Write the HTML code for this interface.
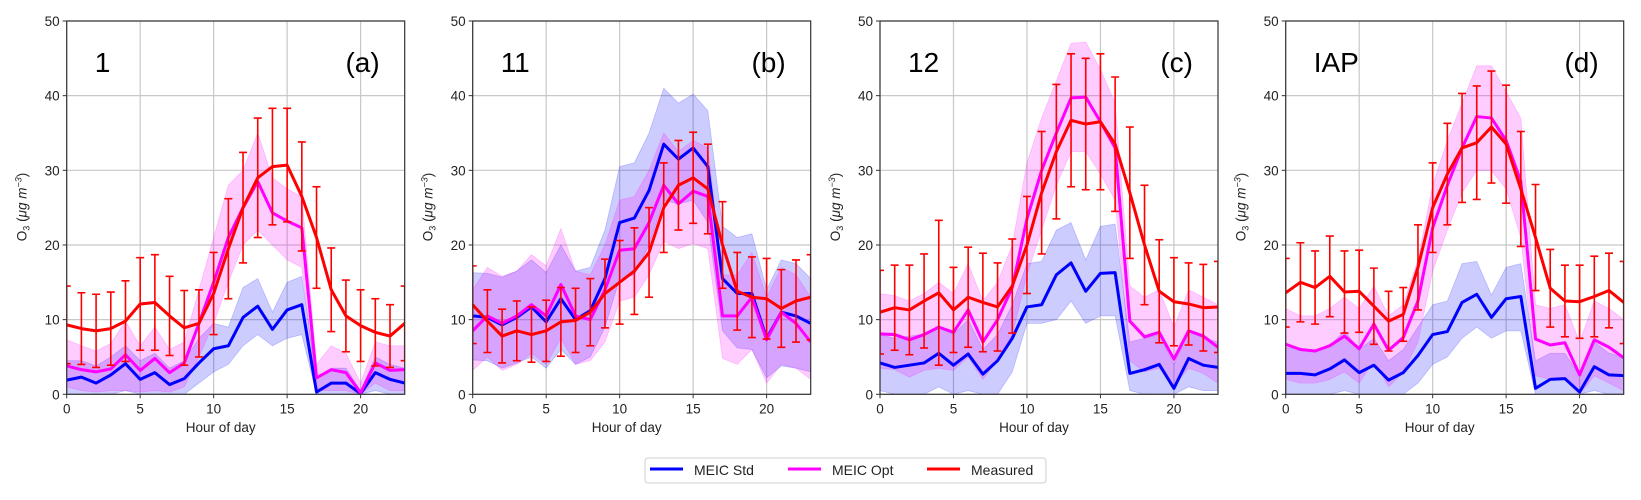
<!DOCTYPE html>
<html><head><meta charset="utf-8"><style>
body{margin:0;background:#fff;}
svg{display:block;font-family:"Liberation Sans",sans-serif;}
</style></head><body>
<svg id="fig" width="1641" height="500" xmlns="http://www.w3.org/2000/svg"></svg>
<script>
const hours=[0,1,2,3,4,5,6,7,8,9,10,11,12,13,14,15,16,17,18,19,20,21,22,23];
const yTicks=[0,10,20,30,40,50];
const xTicks=[0,5,10,15,20];
const panelIds=["1","11","12","IAP"];
const panelTags=["(a)","(b)","(c)","(d)"];
// Panel a
const aRed=[9.3,8.8,8.5,8.8,9.8,12.1,12.3,10.5,8.9,9.5,13.5,19.5,25,29,30.5,30.7,26.5,21,14,10.5,9.2,8.3,7.8,9.5];
const aErr=[5.2,4.8,4.9,4.9,5.4,6.2,6.4,5.3,5,4.5,5.5,6.7,7.4,8,7.8,7.6,7.3,6.8,5.6,4.8,4.8,4.5,4.2,5];
const aMag=[3.8,3.3,3,3.4,5.3,3.2,4.8,2.9,4.2,9.5,15,21,25,28.5,24.3,23.2,22.3,2.2,3.3,2.9,0.2,4.2,3.2,3.3];
const aMagHi=[7.3,6.5,5.8,6.8,9.8,6.5,9,6,7,14,21,28,30,35,29,27.5,26.5,4,6.5,5.5,1.5,7,6.5,6.5];
const aMagLo=[1,0.5,0.3,0.5,0.5,0.3,0.5,0.3,1,5,9.5,15,20,22,20,18,17,0.5,0.5,0.5,0,1.5,0.5,0.5];
const aBlue=[1.9,2.3,1.5,2.6,4.1,2,2.9,1.3,2.1,4.2,6.1,6.5,10.3,11.8,8.7,11.3,12,0.3,1.5,1.5,0.1,2.9,2,1.5];
const aBlueHi=[4.5,4.5,3.8,5,6.5,4.5,5.5,3.5,4.5,7.5,9.5,9,14.3,15.5,11,15,15.8,2,3.5,3.5,0.5,5,4,3.5];
const aBlueLo=[0,0,0,0,0.5,0,0,0,0,1.5,3,4,6.5,8,6.5,7.5,8,0,0,0,0,0.5,0,0];
// Panel b
const bRed=[12,9.8,7.8,8.5,8,8.5,9.7,9.9,11,13.5,15,16.5,19,25,28,29,27.5,20,13.8,13,12.8,11.5,12.5,13];
const bErr=[5.2,4.2,3.6,4,3.7,4.1,4.6,4.3,4.5,4.6,5.6,5.8,6,6,6,6.1,6,5.8,5.2,5.4,5.4,5.2,5.5,5.7];
const bMag=[8.5,10.5,9.5,10.5,12,10.5,14.7,10.5,10,14,19.3,19.5,23,28,25.5,27.2,26.5,10.5,10.5,13,7.3,11,9.5,7];
const bMagHi=[14,17,15.8,16.5,18.7,17.2,22.2,16.5,16,20,26,26.5,30,35,32.5,34,33,16,16,19,13,17,16,13];
const bMagLo=[3.2,5,3.2,4,5.5,4,7.5,4,4.5,7,12.5,13,16,20.5,19.5,20.2,19.5,4.8,4,6,1.5,4,3.5,2];
const bBlue=[10.5,10.3,9.3,10.3,11.7,9.7,12.8,10,11.2,15.5,23,23.6,27.3,33.5,31.5,33,30.5,15.5,13.5,13.5,7.5,11,10.5,9.5];
const bBlueHi=[16.3,16.2,15.7,16.5,18,16.3,20,16.5,17,22,30.5,31,35,41,39,40.2,38,22.5,21,21.5,14,18,17.5,15.5];
const bBlueLo=[4.6,4.5,3.5,4.2,5,3.5,6,4,5,9,15.5,16,20,26,25.5,26,23,8.5,6.2,6,2.2,3.8,3.5,3];
// Panel c
const cRed=[11,11.6,11.3,12.5,13.6,11.3,13,12.3,11.7,14.5,20,27,32.5,36.7,36.2,36.5,33.5,27,20,13.8,12.4,12.1,11.6,11.7];
const cErr=[5.6,5.7,6,6.3,9.7,5.7,6.7,6.6,5.9,6.3,6.5,8.2,9,8.9,8.8,9.1,9,8.8,8,6.9,5.9,5.5,5.8,6.1];
const cMag=[8.1,8,7.3,8,9,8.3,11.3,7,10,14.3,23.5,30,35,39.7,39.8,36.5,33,9.8,7.7,8.3,4.7,8.5,7.8,6.3];
const cMagHi=[13.5,13.2,12.5,13.5,15,13.5,17.5,12.5,15,20,31,37,42,47,47.2,43.5,39,14.5,13,14,9,14,13,12];
const cMagLo=[3.5,3.3,2.3,3.2,3.5,3.2,5,2,4.5,8,16,22,28,32.5,32.5,29.5,26,4.5,3,3.5,1.2,3.5,2.8,1.5];
const cBlue=[4.2,3.6,3.9,4.2,5.5,3.9,5.4,2.7,4.5,7.5,11.7,12,16,17.6,13.8,16.2,16.3,2.8,3.3,4,0.8,4.8,3.9,3.6];
const cBlueHi=[8,7.5,7.8,8,9,8,10,6,8,12,17.5,17.8,22,23,18,22.5,22.8,7,7.5,8,4,8.5,7.5,7];
const cBlueLo=[0.5,0,0,0,1,0,0.5,0,0,3,9.5,9.5,10,12.5,9.5,10.5,10.5,0.5,0,0,0,1,0.5,0.5];
// Panel d
const dRed=[13.6,15,14.3,15.8,13.7,13.8,11.8,9.8,10.7,17,25,29.5,33,33.7,35.8,33.5,27.5,21,14.2,12.5,12.4,13.1,13.9,12.3];
const dErr=[4.6,5.3,4.9,5.4,5.5,5.5,5.1,4,3.6,5.7,6,6.8,7.3,7.6,7.5,7.9,7.7,7.1,5.2,4.8,4.9,5.4,5,5.5];
const dMag=[6.7,6,5.8,6.5,7.8,6.1,9.4,5.9,7.6,12.5,22.3,28,33,37.2,37,34,28.5,7.4,6.6,6.9,2.6,7.3,6.3,4.9];
const dMagHi=[11.5,10.5,10.5,11.5,13,11.5,14.5,10.5,12,18,28,34,39,44,44,40.5,37,12,11.5,12,7,12.5,11.5,10];
const dMagLo=[2,1.5,1.5,2,3,1.5,4.5,1,3,7,16.5,22,27,30,30,27.5,21,2.5,2,2,0,2.5,1.5,0.5];
const dBlue=[2.8,2.8,2.6,3.4,4.6,2.9,3.9,1.9,2.9,5.2,8,8.4,12.3,13.4,10.3,12.8,13.1,0.8,2,2.1,0.3,3.7,2.6,2.5];
const dBlueHi=[6.3,6,5.8,6.5,8.5,6,7.5,4.5,6,9,12,12.5,17.5,17.8,13.3,17,17.5,4.5,5.5,5.5,2.5,7,5.5,5];
const dBlueLo=[0,0,0,0,0.5,0,0,0,0,1.5,4,5,7.5,9,7.5,8.5,8.5,0,0,0,0,0.5,0,0];

const panels=[
 {left:66.7,red:aRed,err:aErr,mag:aMag,magHi:aMagHi,magLo:aMagLo,blue:aBlue,blueHi:aBlueHi,blueLo:aBlueLo},
 {left:472.7,red:bRed,err:bErr,mag:bMag,magHi:bMagHi,magLo:bMagLo,blue:bBlue,blueHi:bBlueHi,blueLo:bBlueLo},
 {left:880,red:cRed,err:cErr,mag:cMag,magHi:cMagHi,magLo:cMagLo,blue:cBlue,blueHi:cBlueHi,blueLo:cBlueLo},
 {left:1285.7,red:dRed,err:dErr,mag:dMag,magHi:dMagHi,magLo:dMagLo,blue:dBlue,blueHi:dBlueHi,blueLo:dBlueLo}
];
const NS="http://www.w3.org/2000/svg";
const svg=document.getElementById('fig');
const W=338, TOP=21, BOT=394.3;
function mk(tag,attrs,parent){const e=document.createElementNS(NS,tag);for(const k in attrs)e.setAttribute(k,attrs[k]);(parent||svg).appendChild(e);return e;}
const defs=mk('defs',{});
panels.forEach((p,pi)=>{
  const cp=mk('clipPath',{id:'clip'+pi},defs);
  mk('rect',{x:p.left,y:TOP,width:W,height:BOT-TOP},cp);
  const g=mk('g',{});
  
  
  const X=h=>p.left+h/23*W;
  const Y=v=>BOT-v/50*(BOT-TOP);
  xTicks.forEach(t=>{const l=mk('line',{x1:X(t),x2:X(t),y1:TOP,y2:BOT,stroke:'#c8c8c8','stroke-width':1.2},g);
    });
  yTicks.forEach(t=>{const l=mk('line',{x1:p.left,x2:p.left+W,y1:Y(t),y2:Y(t),stroke:'#c8c8c8','stroke-width':1.2},g);
    });
  const pg=mk('g',{'clip-path':'url(#clip'+pi+')'},g);
  
  
  const band=(hi,lo,col,name)=>{
    let d='M'+hours.map(h=>X(h)+','+Y(hi[h])).join('L')+'L'+hours.slice().reverse().map(h=>X(h)+','+Y(lo[h])).join('L')+'Z';
    const e=mk('path',{d:d,fill:col,stroke:col,'stroke-width':0.8},pg);
    
  };
  band(p.blueHi,p.blueLo,'rgba(0,0,255,0.2)','meic-std-band');
  band(p.magHi,p.magLo,'rgba(255,0,255,0.2)','meic-opt-band');
  const line=(arr,col,name)=>{
    const e=mk('polyline',{points:hours.map(h=>X(h)+','+Y(arr[h])).join(' '),fill:'none',stroke:col,'stroke-width':3,'stroke-linejoin':'round'},pg);
    
  };
  line(p.blue,'#0000ff','meic-std-line');
  line(p.mag,'#ff00ff','meic-opt-line');
  line(p.red,'#ff0000','measured-line');
  hours.forEach(h=>{
    const x=X(h),y1=Y(p.red[h]+p.err[h]),y2=Y(Math.max(0,p.red[h]-p.err[h]));
    const eg=mk('g',{stroke:'#ff0000','stroke-width':1.6},pg);
    
    mk('line',{x1:x,x2:x,y1:y1,y2:y2},eg);
    mk('line',{x1:x-4,x2:x+4,y1:y1,y2:y1},eg);
    mk('line',{x1:x-4,x2:x+4,y1:y2,y2:y2},eg);
  });
  const sp=mk('rect',{x:p.left,y:TOP,width:W,height:BOT-TOP,fill:'none',stroke:'#333','stroke-width':1.2},g);
  
  xTicks.forEach(t=>{
    mk('line',{x1:X(t),x2:X(t),y1:BOT,y2:BOT+4,stroke:'#333'},g);
    const tx=mk('text',{x:X(t),y:BOT+19,'font-size':13.5,'text-anchor':'middle',fill:'#222'},g);
    tx.textContent=t;
  });
  yTicks.forEach(t=>{
    mk('line',{x1:p.left-4,x2:p.left,y1:Y(t),y2:Y(t),stroke:'#333'},g);
    const tx=mk('text',{x:p.left-7,y:Y(t)+5,'font-size':13.5,'text-anchor':'end',fill:'#222'},g);
    tx.textContent=t;
  });
  const xl=mk('text',{x:p.left+W/2-15,y:432,'font-size':13.5,'text-anchor':'middle',fill:'#222'},g);
  xl.textContent='Hour of day';
  const yl=mk('text',{x:0,y:0,'font-size':13.5,'text-anchor':'middle',fill:'#222',transform:`translate(${p.left-40},207) rotate(-90)`},g);
  yl.innerHTML='O<tspan font-size="9" dy="3">3</tspan><tspan dy="-3"> (</tspan><tspan font-style="italic">μg m</tspan><tspan font-size="9" dy="-5" font-style="italic">−3</tspan><tspan dy="5">)</tspan>';
  
  const id=mk('text',{x:p.left+28,y:72,'font-size':28,fill:'#000'},g);
  id.textContent=panelIds[pi];
  const tg=mk('text',{x:p.left+W-25,y:72,'font-size':28,'text-anchor':'end',fill:'#000'},g);
  tg.textContent=panelTags[pi];
});
const lg=mk('g',{});

mk('rect',{x:645,y:458,width:401,height:25,rx:3,fill:'#fff',stroke:'#d0d0d0'},lg);
[['MEIC Std','#0000ff',650],['MEIC Opt','#ff00ff',788],['Measured','#ff0000',927]].forEach(([t,c,x])=>{
  const e=mk('g',{},lg);
  
  mk('line',{x1:x,x2:x+33,y1:469,y2:469,stroke:c,'stroke-width':3},e);
  const tx=mk('text',{x:x+44,y:475,'font-size':14,fill:'#222'},e);tx.textContent=t;
});
</script>
</body></html>
